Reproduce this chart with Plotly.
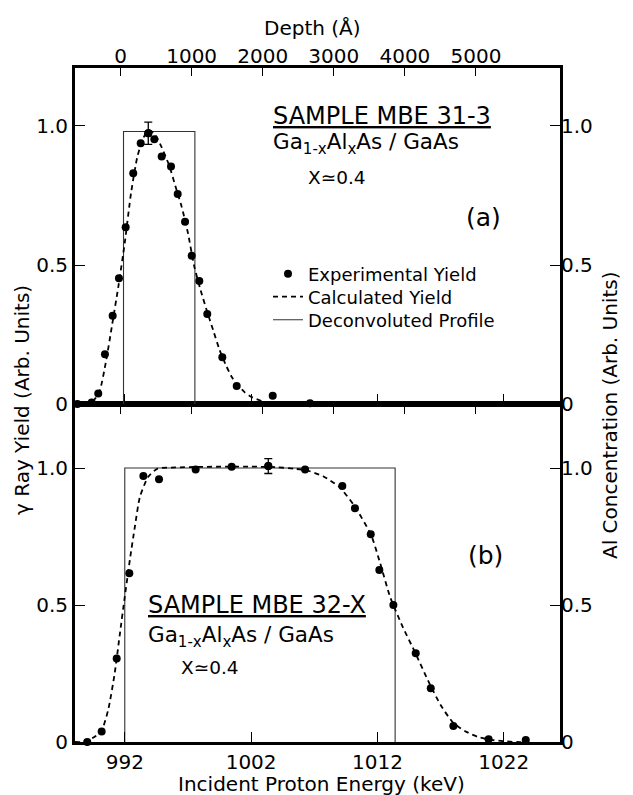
import plotly.graph_objects as go

# ---------------- data ----------------
energy_ticks = [992, 1002, 1012, 1022]
depth_ticks = [0, 1000, 2000, 3000, 4000, 5000]
yield_ticks = [0, 0.5, 1.0]
yield_ticklabels = ["0", "0.5", "1.0"]

# Panel (a) SAMPLE MBE 31-3
exp_a_x = [988.25, 989.38, 989.9, 990.43, 991.04, 991.54, 992.07, 992.67, 993.26, 993.86,
           994.34, 994.92, 995.66, 996.19, 996.77, 997.3, 997.9, 998.53, 999.72, 1000.86,
           1003.71, 1006.66]
exp_a_y = [0.0, 0.005, 0.038, 0.179, 0.317, 0.452, 0.636, 0.83, 0.938, 0.974,
           0.952, 0.89, 0.854, 0.755, 0.656, 0.533, 0.442, 0.324, 0.168, 0.065,
           0.030, 0.003]
err_a_x = [993.86]
err_a_y = [0.974]
err_a_e = [0.04]

calc_a_x = [988.06, 988.8, 989.5, 990.0, 990.5, 991.0, 991.5, 992.0, 992.5, 993.0,
            993.5, 993.9, 994.3, 994.8, 995.5, 996.0, 996.5, 997.0, 997.5, 998.0,
            998.5, 999.0, 999.5, 1000.0, 1000.5, 1001.0, 1001.5, 1002.0, 1003.0, 1004.0,
            1005.0, 1006.5]
calc_a_y = [0.0, 0.002, 0.012, 0.045, 0.15, 0.285, 0.425, 0.58, 0.76, 0.89,
            0.96, 0.985, 0.975, 0.935, 0.86, 0.785, 0.71, 0.615, 0.495, 0.41,
            0.335, 0.265, 0.195, 0.14, 0.095, 0.065, 0.042, 0.026, 0.008, 0.002,
            0.0, 0.0]

prof_a_x = [991.9, 991.9, 997.55, 997.55]
prof_a_y = [0.0, 0.98, 0.98, 0.0]

# Panel (b) SAMPLE MBE 32-X
exp_b_x = [989.03, 990.17, 991.36, 992.36, 993.47, 994.71, 997.61, 1000.46, 1003.36, 1006.27,
           1009.22, 1010.22, 1011.47, 1012.15, 1013.26, 1015.03, 1016.22, 1018.01, 1020.8, 1023.74]
exp_b_y = [0.0, 0.038, 0.305, 0.616, 0.971, 0.959, 0.995, 1.005, 1.007, 0.995,
           0.934, 0.853, 0.758, 0.628, 0.5, 0.324, 0.196, 0.058, 0.01, 0.007]
err_b_x = [1003.36]
err_b_y = [1.007]
err_b_e = [0.027]

calc_b_x = [988.06, 988.6, 989.2, 989.7, 990.2, 990.7, 991.2, 991.6, 992.0, 992.4,
            992.8, 993.2, 993.86, 994.6, 996.0, 998.0, 1000.0, 1002.0, 1004.0, 1005.5,
            1006.5, 1007.7, 1009.0, 1010.2, 1011.5, 1012.2, 1013.0, 1014.0, 1015.0, 1016.0,
            1017.0, 1018.0, 1019.0, 1020.0, 1021.0, 1022.0, 1023.0, 1024.0]
calc_b_y = [0.0, 0.0, 0.008, 0.022, 0.045, 0.12, 0.25, 0.39, 0.53, 0.664,
            0.786, 0.895, 0.968, 0.998, 1.002, 1.004, 1.005, 1.005, 1.003, 0.997,
            0.99, 0.97, 0.93, 0.86, 0.755, 0.655, 0.53, 0.42, 0.325, 0.225,
            0.135, 0.07, 0.038, 0.018, 0.008, 0.003, 0.0, 0.0]

prof_b_x = [992.0, 992.0, 1013.4, 1013.4]
prof_b_y = [0.0, 1.0, 1.0, 0.0]

# ---------------- layout geometry ----------------
W, H = 633, 795
ML, MR, MT, MB = 75, 73, 68, 53
PW, PH = W - ML - MR, H - MT - MB
SPLIT = 338 / PH
ERANGE = [988.06, 1026.45]
DRANGE = [-641, 6182]
YRANGE_A = [0, 1.2086]
YRANGE_B = [0, 1.2336]

FONT = "DejaVu Sans"


def px(x):
    return (x - ML) / PW


def py(y):
    return (H - MB - y) / PH


fig = go.Figure()

dash_style = dict(color="black", width=1.8, dash="5px,4px", shape="spline", smoothing=0.6)
prof_style = dict(color="#333333", width=1.1)
mk = dict(color="black", size=8)

# panel (a) traces
fig.add_trace(go.Scatter(x=prof_a_x, y=prof_a_y, mode="lines", line=prof_style,
                         xaxis="x2", yaxis="y2", name="Deconvoluted Profile",
                         showlegend=True, legend="legend3"))
fig.add_trace(go.Scatter(x=calc_a_x, y=calc_a_y, mode="lines", line=dash_style,
                         xaxis="x2", yaxis="y2", name="Calculated Yield",
                         showlegend=True, legend="legend2"))
fig.add_trace(go.Scatter(x=exp_a_x, y=exp_a_y, mode="markers", marker=mk, cliponaxis=False,
                         xaxis="x2", yaxis="y2", name="Experimental Yield",
                         showlegend=True, legend="legend"))
fig.add_trace(go.Scatter(x=err_a_x, y=err_a_y, mode="markers", marker=mk, cliponaxis=False,
                         error_y=dict(type="data", array=err_a_e, color="black",
                                      thickness=1.3, width=4),
                         xaxis="x2", yaxis="y2", showlegend=False))

# panel (b) traces
fig.add_trace(go.Scatter(x=prof_b_x, y=prof_b_y, mode="lines", line=prof_style,
                         xaxis="x", yaxis="y", showlegend=False))
fig.add_trace(go.Scatter(x=calc_b_x, y=calc_b_y, mode="lines", line=dash_style,
                         xaxis="x", yaxis="y", showlegend=False))
fig.add_trace(go.Scatter(x=exp_b_x, y=exp_b_y, mode="markers", marker=mk, cliponaxis=False,
                         xaxis="x", yaxis="y", showlegend=False))
fig.add_trace(go.Scatter(x=err_b_x, y=err_b_y, mode="markers", marker=mk, cliponaxis=False,
                         error_y=dict(type="data", array=err_b_e, color="black",
                                      thickness=1.3, width=4),
                         xaxis="x", yaxis="y", showlegend=False))

# empty traces to activate the secondary axes
for xa, ya in [("x3", "y2"), ("x4", "y"), ("x", "y3"), ("x2", "y4")]:
    fig.add_trace(go.Scatter(x=[], y=[], xaxis=xa, yaxis=ya, showlegend=False,
                             hoverinfo="skip"))

axis_common = dict(showgrid=False, zeroline=False, ticks="inside", tickcolor="black",
                   tickwidth=1.3, color="black", tickfont=dict(size=20, family=FONT))
frame = dict(showline=True, linewidth=3, linecolor="black", mirror=True)

legend_common = dict(x=px(268), xanchor="left", yanchor="middle",
                     font=dict(size=18, family=FONT, color="black"),
                     bgcolor="rgba(0,0,0,0)", itemwidth=30, borderwidth=0)

fig.update_layout(
    width=W, height=H,
    margin=dict(l=ML, r=MR, t=MT, b=MB, pad=0),
    paper_bgcolor="white", plot_bgcolor="white",
    font=dict(family=FONT, color="black"),
    xaxis=dict(domain=[0, 1], anchor="y", range=ERANGE, tickvals=energy_ticks,
               ticklen=10, **frame, **axis_common),
    xaxis2=dict(domain=[0, 1], anchor="y2", range=ERANGE, tickvals=energy_ticks,
                ticklen=10, showticklabels=False, **frame, **axis_common),
    xaxis3=dict(overlaying="x2", anchor="y2", side="top", range=DRANGE, tickvals=depth_ticks,
                ticklen=8, showline=False, **axis_common),
    xaxis4=dict(overlaying="x", anchor="y", side="top", range=DRANGE, tickvals=depth_ticks,
                ticklen=10, showline=False, showticklabels=False, **axis_common),
    yaxis=dict(domain=[0, SPLIT], anchor="x", range=YRANGE_B, tickvals=yield_ticks,
               ticktext=yield_ticklabels, ticklen=10, **frame, **axis_common),
    yaxis2=dict(domain=[SPLIT, 1], anchor="x2", range=YRANGE_A, tickvals=yield_ticks,
                ticktext=yield_ticklabels, ticklen=10, **frame, **axis_common),
    yaxis3=dict(overlaying="y", anchor="x", side="right", range=YRANGE_B,
                tickvals=yield_ticks, ticktext=yield_ticklabels, ticklen=10,
                showline=False, **axis_common),
    yaxis4=dict(overlaying="y2", anchor="x2", side="right", range=YRANGE_A,
                tickvals=yield_ticks, ticktext=yield_ticklabels, ticklen=10,
                showline=False, **axis_common),
    legend=dict(y=py(274), **legend_common),
    legend2=dict(y=py(297), **legend_common),
    legend3=dict(y=py(320), **legend_common),
    showlegend=True,
)

ann = []


def text(x, y, s, size, xanchor="left", angle=0):
    ann.append(dict(x=px(x), y=py(y), xref="paper", yref="paper", text=s,
                    showarrow=False, xanchor=xanchor, yanchor="middle",
                    textangle=angle, font=dict(size=size, family=FONT, color="black")))


formula = "Ga<sub>1-x</sub>Al<sub>x</sub>As / GaAs"
# panel (a)
text(271, 116, "<u>SAMPLE MBE 31-3</u>", 24)
text(271, 143, formula, 21.5)
text(306, 177, "X≃0.4", 18.5)
text(483, 217, "(a)", 25, xanchor="center")
# panel (b)
text(146, 605, "<u>SAMPLE MBE 32-X</u>", 24)
text(146, 636, formula, 21.5)
text(179, 667, "X≃0.4", 18.5)
text(485, 555, "(b)", 25, xanchor="center")
# axis titles
text(312, 28, "Depth (Å)", 20, xanchor="center")
text(321, 784, "Incident Proton Energy (keV)", 20, xanchor="center")
text(22, 400, "γ Ray Yield (Arb. Units)", 20, xanchor="center", angle=-90)
text(610, 415, "Al Concentration (Arb. Units)", 20, xanchor="center", angle=-90)

fig.update_layout(annotations=ann)

fig.write_html("out.html",
               config={"displayModeBar": False},
               post_script="document.body.style.margin='0px';"
                           "document.body.style.overflow='hidden';")
